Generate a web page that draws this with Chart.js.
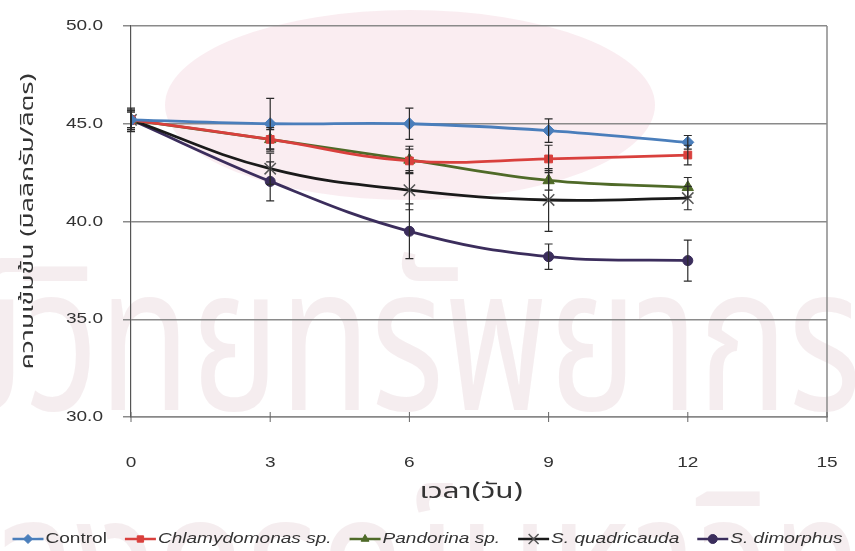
<!DOCTYPE html>
<html>
<head>
<meta charset="utf-8">
<script src="https://cdn.jsdelivr.net/npm/chart.js@4"></script>
<style>
    html, body { margin: 0; padding: 0; background: #fff; }
    #wrap { width: 855px; height: 551px; position: relative; }
</style>
</head>
<body>
<div id="wrap"><canvas id="algaeChart" width="855" height="551"></canvas></div>
<script>
// Concentration over time (mg/L), mean and SD per treatment
const days = [0, 3, 6, 9, 12];
const xTicks = [0, 3, 6, 9, 12, 15];
const yTicks = [30, 35, 40, 45, 50];

const controlMean = [45.2, 45.0, 45.0, 44.65, 44.05];
const controlSd = [0.5, 1.3, 0.8, 0.6, 0.35];

const chlamyMean = [45.2, 44.2, 43.1, 43.2, 43.4];
const chlamySd = [0.4, 0.5, 0.6, 0.7, 0.5];

const pandorinaMean = [45.2, 44.2, 43.15, 42.1, 41.75];
const pandorinaSd = [0.5, 0.6, 0.7, 0.5, 0.5];

const quadriMean = [45.2, 42.7, 41.6, 41.1, 41.2];
const quadriSd = [0.6, 0.8, 1.0, 1.6, 0.6];

const dimorphusMean = [45.2, 42.05, 39.5, 38.2, 38.0];
const dimorphusSd = [0.4, 1.0, 1.4, 0.65, 1.05];

const seriesNames = ['Control', 'Chlamydomonas sp.', 'Pandorina sp.', 'S. quadricauda', 'S. dimorphus'];
const italicNames = [false, true, true, true, true];

const xTitle = 'เวลา(วัน)';
const yTitle = 'ความเข้มข้น (มิลลิกรัม/ลิตร)';

const thaiFont = '"Noto Sans Thai", "Noto Sans", "DejaVu Sans", sans-serif';
const latinFont = '"Liberation Sans", Arial, sans-serif';
const stretch = 1.27;   // all the text on this figure is set wide

function toPoints(means) {
    return means.map((v, i) => ({ x: days[i], y: v }));
}

function makeSeries(label, means, sd, color, style, radius, markerBorder) {
    return {
        label: label,
        data: toPoints(means),
        sd: sd,
        borderColor: color,
        backgroundColor: color,
        pointStyle: style,
        pointRadius: radius,
        pointBorderColor: markerBorder || color,
        pointBorderWidth: style === 'crossRot' ? 1.5 : 1,
        borderWidth: 2.8,
        tension: 0.4,
        fill: false
    };
}

const datasets = [
    makeSeries(seriesNames[0], controlMean, controlSd, '#4a7ebb', 'rectRot', 6),
    makeSeries(seriesNames[1], chlamyMean, chlamySd, '#d9403d', 'rect', 5.5),
    makeSeries(seriesNames[2], pandorinaMean, pandorinaSd, '#4f6a28', 'triangle', 6.5),
    makeSeries(seriesNames[3], quadriMean, quadriSd, '#1a1a1a', 'crossRot', 8, '#555'),
    makeSeries(seriesNames[4], dimorphusMean, dimorphusSd, '#3b2d5c', 'circle', 5)
];

function wideText(c, text, x, y, sx, align) {
    c.save();
    c.translate(x, y);
    c.scale(sx, 1);
    c.textAlign = align;
    c.fillText(text, 0, 0);
    c.restore();
}

// Faint background watermark behind the plot
const watermark = {
    id: 'watermark',
    beforeDraw(chart) {
        const c = chart.ctx;
        c.save();
        c.fillStyle = '#fff';
        c.fillRect(0, 0, chart.width, chart.height);
        c.fillStyle = 'rgba(236, 190, 204, 0.28)';
        c.beginPath();
        c.ellipse(410, 105, 245, 95, 0, 0, Math.PI * 2);
        c.fill();
        c.fillStyle = 'rgba(228, 208, 214, 0.38)';
        c.font = '150px ' + thaiFont;
        c.textBaseline = 'alphabetic';
        c.save();
        c.scale(1, 1.35);
        c.fillText('ศูนย์วิทยทรัพยากร', -250, 410 / 1.35);
        c.fillText('จุฬาลงกรณ์มหาวิทยาลัย', -250, 635 / 1.35);
        c.restore();
        c.restore();
    }
};

// Vertical SD bars with caps, placed through the chart scales
const errorBars = {
    id: 'errorBars',
    afterDatasetsDraw(chart) {
        const c = chart.ctx;
        const xs = chart.scales.x;
        const ys = chart.scales.y;
        c.save();
        c.strokeStyle = '#2b2b2b';
        c.lineWidth = 1.2;
        chart.data.datasets.forEach(ds => {
            ds.data.forEach((p, i) => {
                const e = ds.sd[i];
                const px = xs.getPixelForValue(p.x);
                const top = ys.getPixelForValue(p.y + e);
                const bot = ys.getPixelForValue(p.y - e);
                c.beginPath();
                c.moveTo(px, top);
                c.lineTo(px, bot);
                c.moveTo(px - 4, top);
                c.lineTo(px + 4, top);
                c.moveTo(px - 4, bot);
                c.lineTo(px + 4, bot);
                c.stroke();
            });
        });
        c.restore();
    }
};

// Frame, tick labels, axis titles and the bottom legend
const decorations = {
    id: 'decorations',
    afterDraw(chart) {
        const c = chart.ctx;
        const a = chart.chartArea;
        const xs = chart.scales.x;
        const ys = chart.scales.y;
        c.save();

        // right edge of the frame
        c.strokeStyle = '#8a8a8a';
        c.lineWidth = 1.5;
        c.beginPath();
        c.moveTo(a.right, a.top);
        c.lineTo(a.right, a.bottom);
        c.stroke();

        // small tick marks on the x axis, above and below
        c.strokeStyle = '#666';
        c.lineWidth = 1;
        xTicks.forEach(t => {
            const px = xs.getPixelForValue(t);
            c.beginPath();
            c.moveTo(px, a.bottom - 5);
            c.lineTo(px, a.bottom + 5);
            c.stroke();
        });

        // tick labels
        c.fillStyle = '#333';
        c.font = '15px ' + latinFont;
        c.textBaseline = 'middle';
        yTicks.forEach(t => {
            wideText(c, t.toFixed(1), a.left - 28, ys.getPixelForValue(t), stretch, 'right');
        });
        xTicks.forEach(t => {
            wideText(c, String(t), xs.getPixelForValue(t), 463, stretch, 'center');
        });

        // axis titles
        c.font = '21px ' + thaiFont;
        wideText(c, xTitle, (a.left + a.right) / 2 - 8, 494, 1.42, 'center');

        c.save();
        c.translate(29, (a.top + a.bottom) / 2);
        c.rotate(-Math.PI / 2);
        c.font = '18px ' + thaiFont;
        wideText(c, yTitle, 0, 0, 1.48, 'center');
        c.restore();

        // legend
        const lineLen = 31;
        const gap = 18;
        const items = chart.data.datasets.map((ds, i) => {
            const font = (italicNames[i] ? 'italic ' : '') + '15px ' + latinFont;
            c.font = font;
            return { ds: ds, font: font, w: c.measureText(ds.label).width * stretch };
        });
        const total = items.reduce((s, it) => s + lineLen + 2 + it.w, 0) + gap * (items.length - 1);
        let x = chart.width / 2 - total / 2;
        const y = 539;
        items.forEach(it => {
            const ds = it.ds;
            c.strokeStyle = ds.borderColor;
            c.lineWidth = 2.5;
            c.beginPath();
            c.moveTo(x, y);
            c.lineTo(x + lineLen, y);
            c.stroke();
            c.fillStyle = ds.pointBorderColor;
            c.strokeStyle = ds.pointBorderColor;
            c.lineWidth = ds.pointBorderWidth;
            Chart.helpers.drawPoint(c, {
                pointStyle: ds.pointStyle,
                radius: ds.pointStyle === 'crossRot' ? 7 : 4.5,
                borderWidth: ds.pointBorderWidth
            }, x + lineLen / 2, y);
            c.fillStyle = '#333';
            c.font = it.font;
            c.textBaseline = 'middle';
            wideText(c, ds.label, x + lineLen + 2, y, stretch, 'left');
            x += lineLen + 2 + it.w + gap;
        });
        c.restore();
    }
};

new Chart(document.getElementById('algaeChart'), {
    type: 'line',
    data: { datasets: datasets },
    options: {
        responsive: false,
        animation: false,
        layout: { padding: { left: 0, right: 28, top: 26, bottom: 0 } },
        plugins: {
            legend: { display: false },
            tooltip: { enabled: false }
        },
        scales: {
            x: {
                type: 'linear',
                min: 0,
                max: 15,
                afterFit: s => { s.height = 134; },
                afterBuildTicks: s => { s.ticks = xTicks.map(v => ({ value: v })); },
                grid: { display: false },
                border: { color: '#888', width: 1.5 },
                ticks: { display: false }
            },
            y: {
                min: 30,
                max: 50,
                afterFit: s => { s.width = 131; },
                afterBuildTicks: s => { s.ticks = yTicks.map(v => ({ value: v })); },
                grid: {
                    color: '#8a8a8a',
                    lineWidth: 1.5,
                    tickLength: 8
                },
                border: { color: '#555', width: 1.2 },
                ticks: { display: false }
            }
        }
    },
    plugins: [watermark, errorBars, decorations]
});
</script>
</body>
</html>
